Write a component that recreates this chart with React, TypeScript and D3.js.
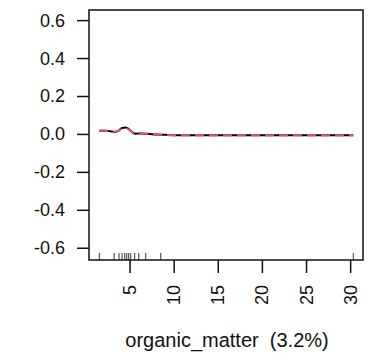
import React from "react";
import * as d3 from "d3";

// Partial dependence of the response on organic matter
const yTicks = [-0.6, -0.4, -0.2, 0.0, 0.2, 0.4, 0.6];
const xTicks = [5, 10, 15, 20, 25, 30];

// fitted function (x, fitted value)
const fittedX = [1.5, 2.3, 2.9, 3.3, 3.7, 4.1, 4.5, 4.9, 5.3, 5.6, 6.1, 7.0, 8.0, 9.0, 10.5, 15, 20, 25, 30.3];
const fittedY = [0.020, 0.019, 0.016, 0.013, 0.020, 0.034, 0.036, 0.027, 0.010, 0.004, 0.005, 0.003, 0.0, -0.002, -0.004, -0.004, -0.004, -0.004, -0.004];

// smoothed fit
const smoothY = [0.020, 0.019, 0.017, 0.015, 0.019, 0.030, 0.032, 0.025, 0.011, 0.005, 0.005, 0.003, 0.0, -0.002, -0.004, -0.004, -0.004, -0.004, -0.004];

// rug: observed organic matter deciles
const rugValues = [1.52, 3.19, 3.75, 4.09, 4.4, 4.63, 4.85, 5.08, 5.53, 5.99, 6.78, 8.48, 30.3];

const xLabel = "organic_matter  (3.2%)";

const W = 389;
const H = 358;
const left = 89;
const right = 363;
const top = 10;
const bottom = 260;

export default function App() {
  const x = d3.scaleLinear().domain([0.35, 31.4]).range([left, right]);
  const y = d3.scaleLinear().domain([-0.662, 0.656]).range([bottom, top]);

  const line = d3
    .line<[number, number]>()
    .x((d) => x(d[0]))
    .y((d) => y(d[1]))
    .curve(d3.curveMonotoneX);

  const fitted = fittedX.map((v, i) => [v, fittedY[i]] as [number, number]);
  const smooth = fittedX.map((v, i) => [v, smoothY[i]] as [number, number]);

  const font = "'Liberation Sans', Arial, sans-serif";

  return (
    <svg
      width={W}
      height={H}
      style={{ position: "absolute", left: 0, top: 0, background: "#fff" }}
      fontFamily={font}
    >
      <rect x={0} y={0} width={W} height={H} fill="#fff" />

      {/* curves */}
      <path d={line(fitted) || ""} fill="none" stroke="#000" strokeWidth={2} />
      <path
        d={line(smooth) || ""}
        fill="none"
        stroke="#DF536B"
        strokeWidth={2}
        strokeDasharray="9,5"
      />

      {/* rug */}
      {rugValues.map((v, i) => (
        <line
          key={i}
          x1={x(v)}
          x2={x(v)}
          y1={bottom}
          y2={bottom - 7}
          stroke="#333"
          strokeWidth={1}
        />
      ))}

      {/* frame */}
      <rect
        x={left}
        y={top}
        width={right - left}
        height={bottom - top}
        fill="none"
        stroke="#111"
        strokeWidth={1.5}
      />

      {/* y axis */}
      {yTicks.map((t) => (
        <g key={t}>
          <line x1={left - 12} x2={left} y1={y(t)} y2={y(t)} stroke="#111" strokeWidth={1.5} />
          <text
            x={65}
            y={y(t)}
            textAnchor="end"
            dominantBaseline="central"
            fontSize={18}
            fill="#111"
          >
            {t.toFixed(1)}
          </text>
        </g>
      ))}

      {/* x axis */}
      {xTicks.map((t) => (
        <g key={t}>
          <line x1={x(t)} x2={x(t)} y1={bottom} y2={bottom + 13} stroke="#111" strokeWidth={1.5} />
          <text
            transform={`translate(${x(t)},${285}) rotate(-90)`}
            textAnchor="end"
            dominantBaseline="central"
            fontSize={18}
            fill="#111"
          >
            {t}
          </text>
        </g>
      ))}

      <text
        x={(left + right) / 2 + 1}
        y={347}
        textAnchor="middle"
        fontSize={20}
        fill="#111"
        style={{ whiteSpace: "pre" }}
      >
        {xLabel}
      </text>
    </svg>
  );
}
